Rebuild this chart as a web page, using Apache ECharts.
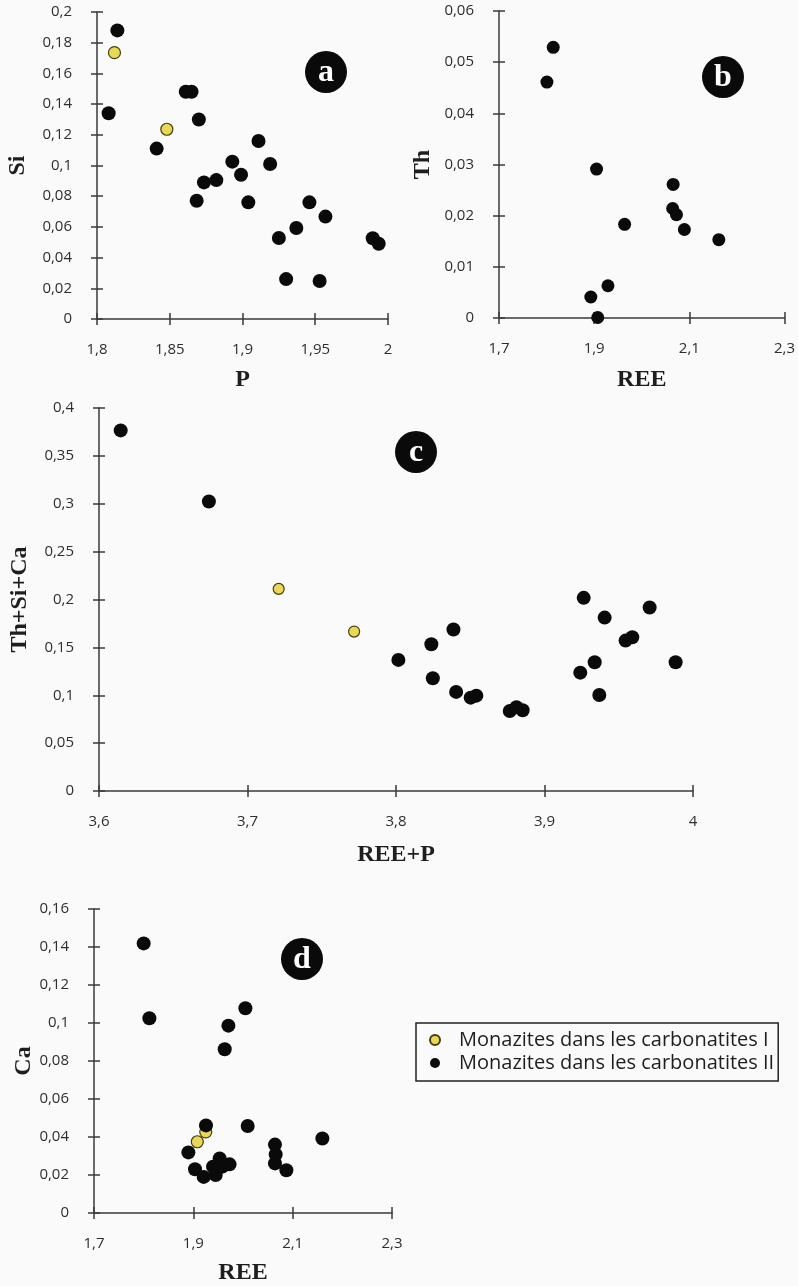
<!DOCTYPE html>
<html><head><meta charset="utf-8">
<script src="https://cdn.jsdelivr.net/npm/echarts@6/dist/echarts.min.js"></script>
<style>html,body{margin:0;padding:0;background:#fafafa}#c{width:798px;height:1286px}</style>
</head><body><div id="c"></div>
<script>
const seriesNames = ['Monazites dans les carbonatites I', 'Monazites dans les carbonatites II'];

// Panel a: P (x) vs Si (y)
const aTypeI = [[1.812,0.1735],[1.848,0.1236]];
const aTypeII = [[1.814,0.188],[1.808,0.134],[1.861,0.148],[1.865,0.148],[1.870,0.130],[1.841,0.111],
  [1.911,0.116],[1.893,0.1025],[1.919,0.101],[1.899,0.094],[1.8685,0.077],[1.8735,0.089],[1.882,0.0905],
  [1.904,0.076],[1.946,0.076],[1.957,0.0667],[1.937,0.0593],[1.925,0.0528],[1.930,0.026],[1.953,0.0248],
  [1.9895,0.0526],[1.9936,0.049]];

// Panel b: REE (x) vs Th (y)
const bTypeII = [[1.814,0.0529],[1.8007,0.0461],[1.905,0.0291],[2.066,0.0261],[2.065,0.0214],[2.073,0.0202],
  [2.0896,0.0173],[1.964,0.0183],[2.162,0.0153],[1.929,0.0063],[1.893,0.0041],[1.9075,0.0001]];

// Panel c: REE+P (x) vs Th+Si+Ca (y)
const cTypeI = [[3.721,0.2111],[3.7718,0.1665]];
const cTypeII = [[3.6146,0.3766],[3.674,0.3024],[3.8016,0.1369],[3.8238,0.1533],[3.8387,0.1686],[3.8248,0.1178],
  [3.8405,0.1035],[3.8503,0.0975],[3.8541,0.0996],[3.8766,0.0836],[3.8811,0.0875],[3.8853,0.0843],
  [3.9241,0.1236],[3.9338,0.1345],[3.9369,0.1003],[3.9264,0.2017],[3.9405,0.1811],[3.9708,0.1916],
  [3.9546,0.1571],[3.9591,0.1606],[3.9883,0.1345]];

// Panel d: REE (x) vs Ca (y)
const dTypeI = [[1.925,0.0427],[1.908,0.0375]];
const dTypeII = [[1.800,0.1419],[1.8115,0.1025],[2.0048,0.1078],[1.9706,0.0986],[1.9632,0.0862],[1.9255,0.0461],
  [1.890,0.0319],[1.9034,0.023],[1.9209,0.019],[1.945,0.020],[1.9396,0.0244],[1.953,0.0287],[1.9585,0.0244],
  [1.973,0.0256],[2.0094,0.0458],[2.0644,0.036],[2.0658,0.0308],[2.0644,0.0261],[2.0873,0.0225],[2.1598,0.0392]];

const panelLetters = ['a','b','c','d'];
const xTitles = ['P','REE','REE+P','REE'];
const yTitles = ['Si','Th','Th+Si+Ca','Ca'];
const xRanges = [[1.8,2,0.05],[1.7,2.3,0.2],[3.6,4,0.1],[1.7,2.3,0.2]];
const yRanges = [[0,0.2,0.02],[0,0.06,0.01],[0,0.4,0.05],[0,0.16,0.02]];

const fmt = v => String(Math.round(v*10000)/10000).replace('.', ',');
const AX = '#3a3a3a';
const tickFont = {fontFamily:'Open Sans', fontSize:15, color:'#2e2e2e'};
const titleFont = {fontFamily:'Liberation Serif', fontWeight:'bold', fontSize:24, color:'#1e1e1e'};

const grids = [
  {left:97, top:12, width:291, height:307},
  {left:499, top:11, width:290, height:307},
  {left:99, top:408, width:594, height:383},
  {left:94, top:909, width:298, height:306}
];
const xGaps = [49, 50, 52, 48];
const yGaps = [67, 64, 67, 57];
const letterPos = [[326,72],[723,77],[416,452],[302,959]];

function axes(dim, g, range, title, gap) {
  const base = {type:'value', gridIndex:g, min:range[0], max:range[1], interval:range[2],
    position: dim==='x' ? 'bottom' : 'left', splitLine:{show:false}};
  const main = Object.assign({}, base, {
    name:title, nameLocation:'middle', nameGap:gap, nameTextStyle:titleFont,
    axisLine:{show:true, onZero:false, lineStyle:{color:AX, width:1.5}},
    axisTick:{show:true, length:6, lineStyle:{color:AX, width:1.5}},
    axisLabel:Object.assign({formatter:fmt, margin: dim==='x'?23:25}, tickFont)
  });
  const inner = Object.assign({}, base, {
    axisLine:{show:false}, axisLabel:{show:false},
    axisTick:{show:true, inside:true, length:6, lineStyle:{color:AX, width:1.5}}
  });
  return [main, inner];
}

const xAxis = [], yAxis = [];
grids.forEach((gr, g) => {
  xAxis.push(...axes('x', g, xRanges[g], xTitles[g], xGaps[g]));
  yAxis.push(...axes('y', g, yRanges[g], yTitles[g], yGaps[g]));
});

const styleI = {color:'#e6d85a', borderColor:'#4a3c0c', borderWidth:1.2, opacity:1};
const styleII = {color:'#0a0a0a', opacity:1};
function sc(name, g, data, size, st) {
  return {type:'scatter', name, xAxisIndex:2*g, yAxisIndex:2*g, data, symbol:'circle',
    symbolSize:size, itemStyle:st, emphasis:{disabled:true}, animation:false};
}
const series = [
  sc(seriesNames[0], 0, aTypeI, 12, styleI),
  sc(seriesNames[1], 0, aTypeII, 14, styleII),
  sc(seriesNames[1], 1, bTypeII, 13, styleII),
  sc(seriesNames[0], 2, cTypeI, 11, styleI),
  sc(seriesNames[1], 2, cTypeII, 14, styleII),
  sc(seriesNames[0], 3, dTypeI, 12, styleI),
  sc(seriesNames[1], 3, dTypeII, 14, styleII)
];

const graphic = [];
letterPos.forEach((p, i) => {
  graphic.push({type:'circle', shape:{cx:p[0], cy:p[1], r:21}, style:{fill:'#0a0a0a'}, z:10});
  graphic.push({type:'text', x:p[0], y:p[1]+1, z:11, style:{text:panelLetters[i], fill:'#fff',
    font:'bold 32px "Liberation Serif"', align:'center', verticalAlign:'middle'}});
});

const chart = echarts.init(document.getElementById('c'), null, {renderer:'canvas'});
chart.setOption({
  backgroundColor:'#fafafa',
  animation:false,
  grid: grids,
  xAxis, yAxis, series, graphic,
  legend: {data:seriesNames, orient:'vertical', left:416, top:1023, itemGap:3,
    itemWidth:14, itemHeight:10, padding:[7,4,8,13],
    borderColor:'#222', borderWidth:1.5, backgroundColor:'transparent',
    textStyle:{fontFamily:'Open Sans', fontSize:20, color:'#1e1e1e', padding:[0,0,0,12]}}
});
</script></body></html>
